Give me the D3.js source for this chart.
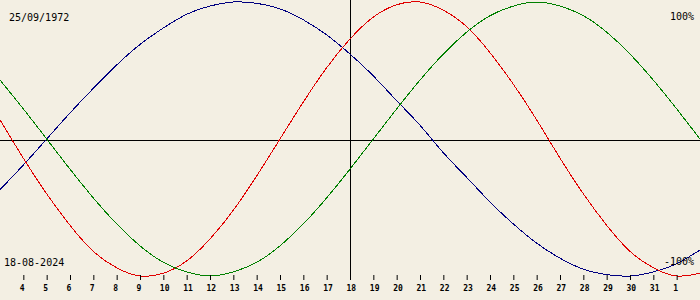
<!DOCTYPE html>
<html>
<head>
<meta charset="utf-8">
<script src="https://cdn.jsdelivr.net/npm/d3@7"></script>
<style>
  html, body { margin: 0; padding: 0; background: #f3efe3; }
  svg { display: block; }
  text { font-family: "DejaVu Sans Mono", monospace; fill: #000; }
</style>
</head>
<body>
<svg id="chart" width="700" height="300"></svg>
<script>
// biorhythm for birth date 25/09/1972, centred on 18-08-2024
const birthLabel = "25/09/1972";
const dateLabel = "18-08-2024";
const firstDay = "2024-08-03";
const lastDay = "2024-09-02";
const centerDay = "2024-08-18";

// one value per day, Aug 3 .. Sep 2 (percent)
const physical = [14, -14, -40, -63, -82, -94, -100, -98, -89, -73, -52, -27, 0, 27, 52, 73,
  89, 98, 100, 94, 82, 63, 40, 14, -14, -40, -63, -82, -94, -100, -98];
const emotional = [43, 22, 0, -22, -43, -62, -78, -90, -97, -100, -97, -90, -78, -62, -43, -22,
  0, 22, 43, 62, 78, 90, 97, 100, 97, 90, 78, 62, 43, 22, 0];
const intellectual = [-37, -19, 0, 19, 37, 54, 69, 81, 91, 97, 100, 99, 95, 87, 76, 62,
  46, 28, 10, -10, -28, -46, -62, -76, -87, -95, -99, -100, -97, -91, -81];

const width = 700;
const height = 300;
const parse = d3.timeParse("%Y-%m-%d");

const start = parse(firstDay);
const end = parse(lastDay);
const days = d3.timeDay.range(start, d3.timeDay.offset(end, 1));

const x = d3.scaleTime().domain([start, end]).range([0, width]);
const y = d3.scaleLinear().domain([-100, 100]).range([276, 2]);

const svg = d3.select("#chart");

// zero line and today marker
svg.append("line")
  .attr("x1", 0).attr("x2", width)
  .attr("y1", 140.5).attr("y2", 140.5)
  .attr("stroke", "#000").attr("shape-rendering", "crispEdges");

svg.append("line")
  .attr("x1", Math.floor(x(parse(centerDay))) + 0.5)
  .attr("x2", Math.floor(x(parse(centerDay))) + 0.5)
  .attr("y1", 0).attr("y2", 278)
  .attr("stroke", "#000").attr("shape-rendering", "crispEdges");

const series = [
  { name: "intellectual", values: intellectual, color: "#000080" },
  { name: "physical", values: physical, color: "#e00000" },
  { name: "emotional", values: emotional, color: "#008000" }
];

const line = d3.line()
  .x((d, i) => x(days[i]))
  .y(d => y(d))
  .curve(d3.curveNatural);

svg.append("g")
  .selectAll("path")
  .data(series)
  .join("path")
  .attr("fill", "none")
  .attr("stroke", d => d.color)
  .attr("stroke-width", 1)
  .attr("shape-rendering", "crispEdges")
  .attr("d", d => line(d.values));

// day axis
const tickDays = days.slice(1, -1);
const axis = svg.append("g")
  .attr("transform", "translate(0,275)")
  .call(d3.axisBottom(x)
    .tickValues(tickDays)
    .tickSize(5)
    .tickFormat(d3.timeFormat("%-d")));

axis.select(".domain").remove();
axis.selectAll(".tick line").attr("stroke", "#000");
axis.selectAll(".tick text")
  .attr("font-family", "DejaVu Sans Mono, monospace")
  .attr("font-size", 8)
  .attr("font-weight", "bold")
  .attr("text-anchor", "start")
  .attr("x", -4)
  .attr("y", 16)
  .attr("dy", null);

// labels
svg.append("text").attr("x", 9).attr("y", 21).attr("font-size", 10).text(birthLabel);
svg.append("text").attr("x", 4).attr("y", 266).attr("font-size", 10).text(dateLabel);
svg.append("text").attr("x", 694).attr("y", 20).attr("font-size", 10)
  .attr("text-anchor", "end").text("100%");
svg.append("text").attr("x", 694).attr("y", 265).attr("font-size", 10)
  .attr("text-anchor", "end").text("-100%");
</script>
</body>
</html>
